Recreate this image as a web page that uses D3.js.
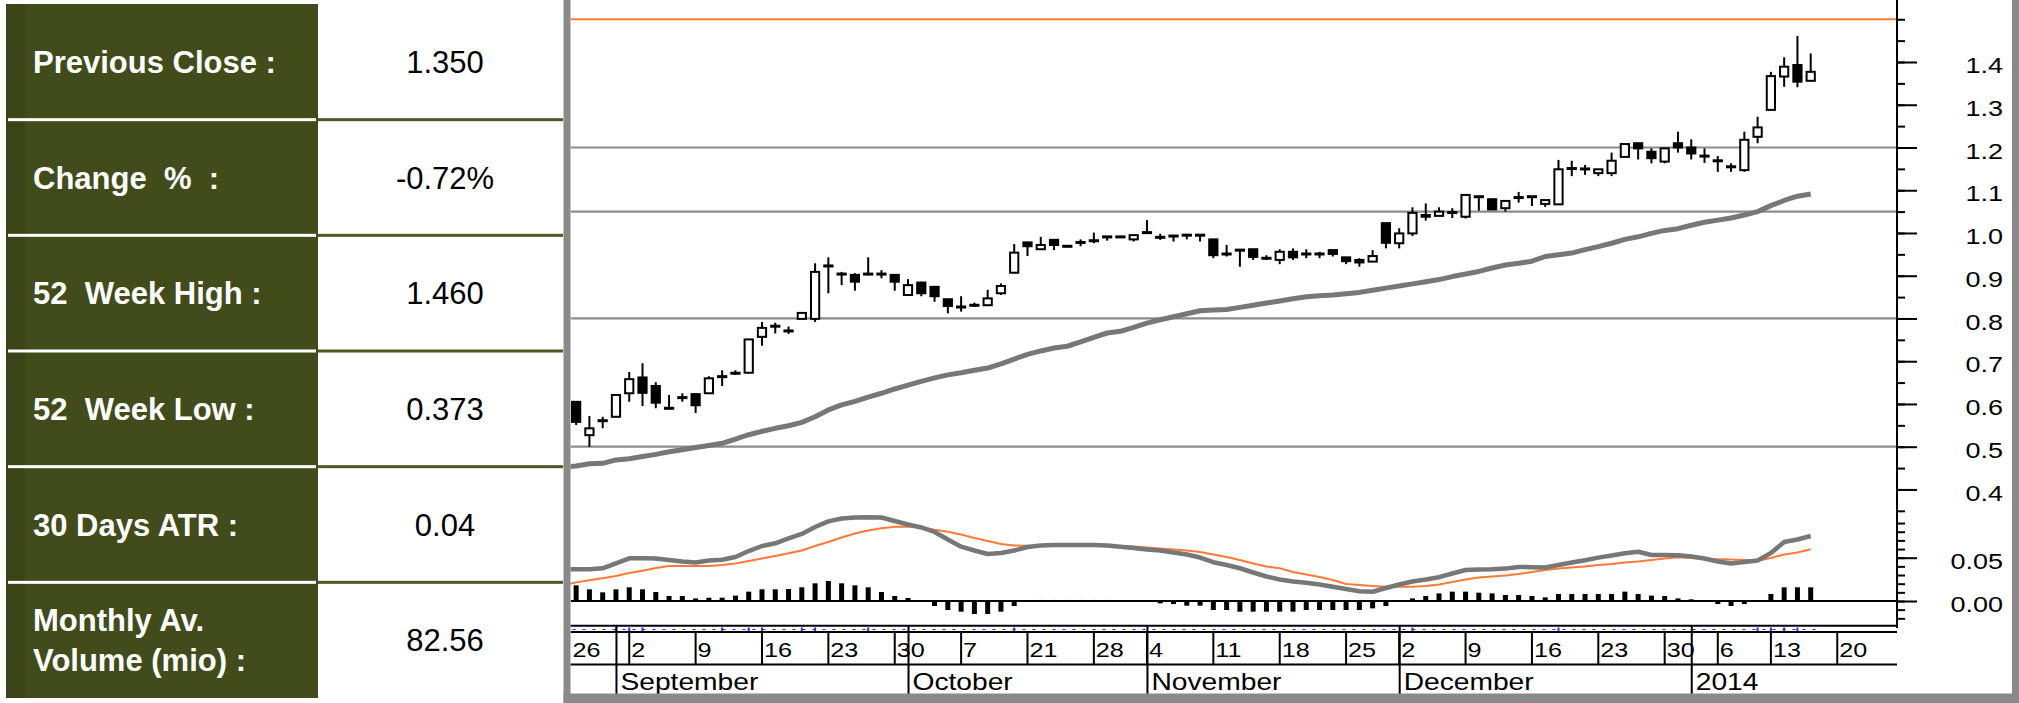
<!DOCTYPE html>
<html>
<head>
<meta charset="utf-8">
<script src="https://cdn.jsdelivr.net/npm/d3@7"></script>
<style>
  body { margin: 0; background: #fff; }
  svg { display: block; font-family: 'Liberation Sans', Arial, sans-serif; }
</style>
</head>
<body>
<div id="chart"></div>
<script>
// DATA
const tableLabels = [['Previous Close :'], ['Change  %  :'], ['52  Week High :'], ['52  Week Low :'], ['30 Days ATR :'], ['Monthly Av.', 'Volume (mio) :']]
const tableValues = ['1.350', '-0.72%', '1.460', '0.373', '0.04', '82.56']

// daily candles, one per trading day (index 0 = first bar on the chart)
const candleOpen = [0.605,0.527,0.562,0.570,0.625,0.662,0.642,0.591,0.616,0.623,
  0.625,0.665,0.673,0.673,0.757,0.783,0.772,0.799,0.799,0.924,
  0.905,0.902,0.905,0.905,0.902,0.855,0.884,0.874,0.845,0.828,
  0.832,0.831,0.859,0.907,0.978,0.962,0.984,0.970,0.979,0.983,
  0.992,0.992,0.985,1.002,0.991,0.994,0.996,0.996,0.985,0.952,
  0.961,0.962,0.942,0.937,0.956,0.952,0.952,0.960,0.943,0.937,
  0.933,1.023,0.976,0.999,1.042,1.040,1.049,1.038,1.086,1.079,
  1.058,1.084,1.086,1.068,1.067,1.152,1.151,1.140,1.140,1.178,
  1.210,1.190,1.167,1.210,1.200,1.181,1.170,1.156,1.147,1.225,
  1.288,1.366,1.393,1.356]
const candleHigh = [0.607,0.572,0.570,0.621,0.675,0.695,0.651,0.621,0.625,0.624,
  0.665,0.679,0.679,0.751,0.792,0.790,0.781,0.813,0.929,0.943,
  0.909,0.906,0.943,0.913,0.902,0.892,0.886,0.874,0.845,0.852,
  0.837,0.867,0.882,0.974,0.978,0.991,0.984,0.970,0.985,1.001,
  0.992,0.992,0.995,1.030,0.998,0.994,0.996,0.996,0.985,0.972,
  0.961,0.962,0.948,0.962,0.964,0.962,0.956,0.960,0.943,0.941,
  0.960,1.023,1.011,1.060,1.069,1.060,1.058,1.089,1.086,1.079,
  1.075,1.096,1.086,1.077,1.171,1.169,1.159,1.149,1.188,1.208,
  1.210,1.198,1.198,1.237,1.219,1.198,1.180,1.163,1.237,1.272,
  1.377,1.411,1.461,1.420]
const candleLow = [0.551,0.500,0.543,0.570,0.605,0.595,0.590,0.588,0.605,0.579,
  0.625,0.642,0.668,0.673,0.736,0.765,0.764,0.799,0.792,0.859,
  0.878,0.865,0.902,0.894,0.865,0.855,0.852,0.839,0.812,0.816,
  0.827,0.831,0.855,0.907,0.946,0.962,0.960,0.967,0.969,0.976,
  0.982,0.990,0.980,1.000,0.984,0.980,0.985,0.980,0.941,0.945,
  0.921,0.937,0.937,0.927,0.937,0.941,0.941,0.945,0.927,0.921,
  0.933,0.964,0.964,0.993,1.029,1.040,1.035,1.034,1.052,1.055,
  1.050,1.071,1.063,1.061,1.067,1.133,1.136,1.133,1.133,1.178,
  1.172,1.163,1.163,1.188,1.172,1.164,1.143,1.143,1.143,1.210,
  1.288,1.342,1.341,1.356]
const candleClose = [0.558,0.543,0.560,0.621,0.658,0.626,0.603,0.589,0.614,0.597,
  0.660,0.663,0.671,0.751,0.778,0.781,0.770,0.813,0.909,0.922,
  0.903,0.886,0.903,0.903,0.886,0.878,0.859,0.852,0.829,0.826,
  0.830,0.847,0.876,0.954,0.969,0.972,0.972,0.968,0.977,0.981,
  0.990,0.990,0.995,1.000,0.989,0.992,0.994,0.994,0.948,0.950,
  0.959,0.944,0.940,0.956,0.943,0.950,0.950,0.951,0.934,0.931,
  0.946,0.977,0.999,1.047,1.038,1.050,1.047,1.089,1.084,1.055,
  1.075,1.082,1.084,1.077,1.149,1.150,1.149,1.149,1.169,1.208,
  1.198,1.175,1.198,1.200,1.186,1.179,1.168,1.154,1.218,1.247,
  1.367,1.389,1.354,1.377]

// moving average, starts one day before the first candle
const movingAverage = [0.452,
  0.455,0.460,0.461,0.469,0.472,0.477,0.482,0.488,0.493,0.498,
  0.503,0.508,0.518,0.528,0.536,0.543,0.549,0.557,0.570,0.586,
  0.598,0.606,0.616,0.625,0.635,0.644,0.653,0.661,0.668,0.673,
  0.679,0.684,0.694,0.705,0.716,0.724,0.731,0.735,0.745,0.756,
  0.766,0.770,0.779,0.789,0.797,0.804,0.811,0.818,0.820,0.821,
  0.826,0.831,0.836,0.841,0.846,0.851,0.853,0.855,0.858,0.861,
  0.866,0.871,0.876,0.881,0.886,0.891,0.898,0.904,0.910,0.918,
  0.925,0.929,0.934,0.945,0.949,0.953,0.961,0.968,0.976,0.985,
  0.991,0.999,1.006,1.010,1.018,1.025,1.030,1.035,1.042,1.050,
  1.064,1.076,1.086,1.091]

// MACD and signal, also starting one day before the first candle
const macdLine = [0.0366,
  0.0366,0.0366,0.0378,0.0434,0.0493,0.0493,0.0490,0.0473,0.0456,0.0445,
  0.0468,0.0477,0.0508,0.0577,0.0635,0.0666,0.0722,0.0774,0.0855,0.0920,
  0.0953,0.0964,0.0967,0.0964,0.0924,0.0883,0.0849,0.0797,0.0710,0.0627,
  0.0583,0.0543,0.0554,0.0583,0.0624,0.0641,0.0647,0.0647,0.0647,0.0647,
  0.0641,0.0626,0.0612,0.0595,0.0583,0.0560,0.0537,0.0502,0.0448,0.0416,
  0.0378,0.0329,0.0283,0.0248,0.0225,0.0211,0.0191,0.0165,0.0139,0.0112,
  0.0107,0.0150,0.0191,0.0225,0.0248,0.0275,0.0318,0.0358,0.0363,0.0366,
  0.0374,0.0393,0.0390,0.0386,0.0416,0.0445,0.0471,0.0501,0.0525,0.0551,
  0.0568,0.0531,0.0531,0.0529,0.0514,0.0491,0.0456,0.0433,0.0450,0.0468,
  0.0554,0.0681,0.0710,0.0751]
const signalLine = [0.0181,
  0.0215,0.0239,0.0263,0.0289,0.0323,0.0350,0.0381,0.0404,0.0404,0.0404,
  0.0404,0.0416,0.0432,0.0462,0.0491,0.0520,0.0551,0.0583,0.0635,0.0681,
  0.0733,0.0779,0.0814,0.0839,0.0858,0.0856,0.0849,0.0822,0.0799,0.0768,
  0.0727,0.0693,0.0658,0.0641,0.0637,0.0635,0.0635,0.0635,0.0635,0.0635,
  0.0635,0.0635,0.0629,0.0618,0.0606,0.0595,0.0583,0.0566,0.0537,0.0508,
  0.0473,0.0433,0.0398,0.0378,0.0335,0.0306,0.0277,0.0242,0.0196,0.0185,
  0.0173,0.0165,0.0165,0.0165,0.0173,0.0191,0.0219,0.0248,0.0271,0.0283,
  0.0294,0.0312,0.0335,0.0358,0.0375,0.0387,0.0398,0.0416,0.0427,0.0445,
  0.0456,0.0473,0.0491,0.0505,0.0497,0.0487,0.0482,0.0479,0.0473,0.0465,
  0.0497,0.0537,0.0560,0.0597]
const macdHistogram = [0.0181,0.0135,0.0100,0.0135,0.0158,0.0135,0.0104,0.0058,0.0058,0.0030,
  0.0038,0.0038,0.0062,0.0108,0.0135,0.0135,0.0139,0.0158,0.0204,0.0231,
  0.0204,0.0181,0.0158,0.0104,0.0058,0.0035,0,-0.0058,-0.0104,-0.0123,
  -0.0150,-0.0150,-0.0123,-0.0058,0,0.0012,0.0012,0.0012,0.0012,0.0012,
  0.0012,0,0,0,-0.0027,-0.0035,-0.0054,-0.0054,-0.0104,-0.0104,
  -0.0123,-0.0123,-0.0123,-0.0123,-0.0123,-0.0104,-0.0104,-0.0104,-0.0104,-0.0104,
  -0.0085,-0.0058,0.0010,0.0030,0.0058,0.0088,0.0108,0.0108,0.0096,0.0088,
  0.0069,0.0069,0.0058,0.0042,0.0081,0.0081,0.0081,0.0081,0.0081,0.0108,
  0.0081,0.0062,0.0058,0.0030,0.0019,0.0008,-0.0035,-0.0058,-0.0035,0.0010,
  0.0081,0.0158,0.0158,0.0158]

const priceLevels = [1.2, 1.05, 0.8, 0.5]
const highLevel = 1.5
const priceMajorTicks = [0.4, 0.5, 0.6, 0.7, 0.8, 0.9, 1.0, 1.1, 1.2, 1.3, 1.4]
const macdMajorTicks = [0, 0.05]

const weekLabels = ['26', '2', '9', '16', '23', '30', '7', '21', '28', '4', '11', '18', '25', '2', '9', '16', '23', '30', '6', '13', '20']
const weekIndex = [-1, 4, 9, 14, 19, 24, 29, 34, 39, 43, 48, 53, 58, 62, 67, 72, 77, 82, 86, 90, 95]
const monthLabels = ['September', 'October', 'November', 'December', '2014']
const monthIndex = [3, 25, 43, 62, 84]
const markerIndex = [3, 4, 5, 11, 13, 14, 17, 18, 22, 33, 63, 74, 89, 90, 91, 92]

// SETTINGS
const settings = {
    width: 2019,
    height: 703,
    table: { left: 6, top: 4, bottom: 698, split: 318, right: 563, valueCenter: 445 },
    plot: { left: 570.5, right: 1897, bottom: 626 },
    colors: {
        olive: '#424c1b',
        oliveDark: '#3b4416',
        frame: '#8a8a8a',
        grid: '#8c8c8c',
        line: '#777777',
        orange: '#ff7a36',
        marker: '#2b2bff'
    },
    textStretch: 1.2
}

const svg = d3.select('#chart').append('svg')
    .attr('width', settings.width)
    .attr('height', settings.height)

svg.append('rect').attr('width', settings.width).attr('height', settings.height).attr('fill', '#fff')

// SCALES
const x = d3.scaleLinear().domain([-0.5, 99.5]).range([569.5, 1897])
const yPrice = d3.scaleLinear().domain([0.5, 1.4]).range([446.7, 62])
const yMacd = d3.scaleLinear().domain([0, 0.05]).range([601, 557.7])

drawTable()
drawPricePanel()
drawMacdPanel()
drawRightAxis()
drawDateAxis()
drawFrame()

// TABLE
function drawTable() {
    const t = settings.table
    const rows = d3.scaleBand().domain(d3.range(tableLabels.length)).range([t.top, t.bottom])
    const g = svg.append('g').attr('class', 'table')

    g.append('rect').attr('x', t.left).attr('y', t.top)
        .attr('width', t.split - t.left).attr('height', t.bottom - t.top)
        .attr('fill', settings.colors.olive)
    g.append('rect').attr('x', t.left).attr('y', t.top)
        .attr('width', 19).attr('height', t.bottom - t.top)
        .attr('fill', settings.colors.oliveDark)

    // row separators
    const seps = d3.range(1, tableLabels.length)
    g.selectAll('.sep-l').data(seps).enter().append('rect')
        .attr('x', t.left + 2).attr('y', d => rows(d) - 1.5)
        .attr('width', t.split - t.left - 4).attr('height', 3)
        .attr('fill', '#fff')
    g.selectAll('.sep-r').data(seps).enter().append('rect')
        .attr('x', t.split).attr('y', d => rows(d) - 1.5)
        .attr('width', t.right - t.split).attr('height', 3)
        .attr('fill', '#4d5826')

    const labels = g.selectAll('.label').data(tableLabels).enter().append('text')
        .attr('x', 33)
        .attr('y', (d, i) => rows(i) + rows.bandwidth() / 2 + 11 - (d.length - 1) * 20)
        .attr('fill', '#fff')
        .attr('font-size', 31)
        .attr('font-weight', 'bold')
        .style('white-space', 'pre')
    labels.selectAll('tspan').data(d => d).enter().append('tspan')
        .attr('x', 33)
        .attr('dy', (d, i) => i === 0 ? 0 : 40)
        .text(d => d)

    g.selectAll('.value').data(tableValues).enter().append('text')
        .attr('x', t.valueCenter)
        .attr('y', (d, i) => rows(i) + rows.bandwidth() / 2 + 11)
        .attr('text-anchor', 'middle')
        .attr('font-size', 31)
        .attr('fill', '#000')
        .text(d => d)
}

// PRICE PANEL
function drawPricePanel() {
    const p = settings.plot
    svg.append('clipPath').attr('id', 'plot-clip')
        .append('rect').attr('x', p.left).attr('y', 0)
        .attr('width', p.right - p.left).attr('height', p.bottom)

    const g = svg.append('g').attr('clip-path', 'url(#plot-clip)')

    g.selectAll('.level').data(priceLevels).enter().append('line')
        .attr('x1', p.left).attr('x2', p.right)
        .attr('y1', d => yPrice(d)).attr('y2', d => yPrice(d))
        .attr('stroke', settings.colors.grid).attr('stroke-width', 2.2)

    g.append('line')
        .attr('x1', p.left).attr('x2', p.right)
        .attr('y1', yPrice(highLevel)).attr('y2', yPrice(highLevel))
        .attr('stroke', settings.colors.orange).attr('stroke-width', 2.2)

    const maLine = d3.line().x((d, i) => x(i - 1)).y(d => yPrice(d))
    g.append('path').datum(movingAverage)
        .attr('d', maLine)
        .attr('fill', 'none')
        .attr('stroke', settings.colors.line)
        .attr('stroke-width', 5)
        .attr('stroke-linejoin', 'round')

    const candles = candleOpen.map((o, i) => ({ i, o, h: candleHigh[i], l: candleLow[i], c: candleClose[i] }))
    const bodyWidth = (x(1) - x(0)) * 0.62

    g.selectAll('.wick').data(candles).enter().append('line')
        .attr('x1', d => x(d.i)).attr('x2', d => x(d.i))
        .attr('y1', d => yPrice(d.h)).attr('y2', d => yPrice(d.l))
        .attr('stroke', '#000').attr('stroke-width', 2)

    g.selectAll('.body').data(candles).enter().append('rect')
        .attr('x', d => x(d.i) - bodyWidth / 2)
        .attr('y', d => yPrice(Math.max(d.o, d.c)))
        .attr('width', bodyWidth)
        .attr('height', d => Math.max(1, Math.abs(yPrice(d.o) - yPrice(d.c))))
        .attr('fill', d => d.c < d.o ? '#000' : '#fff')
        .attr('stroke', '#000').attr('stroke-width', 2)
}

// MACD PANEL
function drawMacdPanel() {
    const p = settings.plot
    const g = svg.append('g').attr('clip-path', 'url(#plot-clip)')

    g.append('line')
        .attr('x1', p.left).attr('x2', p.right)
        .attr('y1', yMacd(0)).attr('y2', yMacd(0))
        .attr('stroke', '#000').attr('stroke-width', 2)

    g.selectAll('.hist').data(macdHistogram).enter().append('rect')
        .attr('x', (d, i) => x(i) - 2.5)
        .attr('y', d => Math.min(yMacd(d), yMacd(0)))
        .attr('width', 5)
        .attr('height', d => Math.abs(yMacd(d) - yMacd(0)))
        .attr('fill', '#000')

    const line = d3.line().x((d, i) => x(i - 1)).y(d => yMacd(d))
    g.append('path').datum(signalLine)
        .attr('d', line).attr('fill', 'none')
        .attr('stroke', settings.colors.orange).attr('stroke-width', 2)
    g.append('path').datum(macdLine)
        .attr('d', line).attr('fill', 'none')
        .attr('stroke', settings.colors.line).attr('stroke-width', 4.5)
        .attr('stroke-linejoin', 'round')
}

// RIGHT AXIS
function drawRightAxis() {
    const p = settings.plot
    const g = svg.append('g').attr('transform', `translate(${p.right},0)`)

    const priceMinor = d3.range(0.35, 1.5501, 0.05)
    const macdMinor = d3.range(-0.02, 0.0901, 0.01)

    g.append('g').call(d3.axisRight(yPrice).tickValues(priceMinor).tickSize(8).tickSizeOuter(0).tickFormat(''))
    g.append('g').call(d3.axisRight(yMacd).tickValues(macdMinor).tickSize(8).tickSizeOuter(0).tickFormat(''))
    g.append('g').call(d3.axisRight(yPrice).tickValues(priceMajorTicks).tickSize(20).tickSizeOuter(0).tickFormat(d3.format('.1f')))
    g.append('g').call(d3.axisRight(yMacd).tickValues(macdMajorTicks).tickSize(20).tickSizeOuter(0).tickFormat(d3.format('.2f')))

    g.selectAll('.domain').remove()
    g.selectAll('.tick line').attr('stroke', '#000').attr('stroke-width', 2)
    g.selectAll('.tick text')
        .attr('font-size', 22.5)
        .attr('font-family', null)
        .attr('fill', '#000')
        .attr('text-anchor', 'end')
        .attr('dy', '0.47em')
        .attr('x', 0)
        .attr('transform', `translate(106,0) scale(${settings.textStretch},1)`)

    g.append('line')
        .attr('x1', 0).attr('x2', 0).attr('y1', 0).attr('y2', 628)
        .attr('stroke', '#000').attr('stroke-width', 2)
}

// DATE AXIS
function drawDateAxis() {
    const p = settings.plot
    const g = svg.append('g')

    const hLines = [625.7, 632, 664.5]
    g.selectAll('.hline').data(hLines).enter().append('line')
        .attr('x1', p.left).attr('x2', p.right)
        .attr('y1', d => d).attr('y2', d => d)
        .attr('stroke', '#000').attr('stroke-width', 2)

    // blue dotted marker line
    g.append('line')
        .attr('x1', p.left + 2).attr('x2', x(93) + 6)
        .attr('y1', 629.5).attr('y2', 629.5)
        .attr('stroke', settings.colors.marker).attr('stroke-width', 1.2)
        .attr('stroke-dasharray', '3,7')
    g.selectAll('.marker').data(markerIndex).enter().append('line')
        .attr('x1', d => x(d)).attr('x2', d => x(d))
        .attr('y1', 627.5).attr('y2', 631)
        .attr('stroke', settings.colors.marker).attr('stroke-width', 2)

    const weekAxis = d3.axisBottom(x)
        .tickValues(weekIndex)
        .tickSize(32)
        .tickSizeOuter(0)
        .tickFormat((d, i) => weekLabels[i])
    const wk = g.append('g').attr('transform', 'translate(0,632)').call(weekAxis)
    wk.selectAll('.tick').attr('transform', d => `translate(${Math.max(x(d), p.left)},0)`)
    wk.selectAll('.tick line').attr('stroke', '#000').attr('stroke-width', 2)
        .attr('opacity', d => x(d) < p.left ? 0 : 1)
    wk.selectAll('.tick text')
        .attr('font-size', 21).attr('font-family', null).attr('fill', '#000')
        .attr('text-anchor', 'start').attr('x', 0).attr('y', 0).attr('dy', 0)
        .attr('transform', `translate(2,25.3) scale(${settings.textStretch},1)`)

    const monthAxis = d3.axisBottom(x)
        .tickValues(monthIndex)
        .tickSize(68)
        .tickSizeOuter(0)
        .tickFormat((d, i) => monthLabels[i])
    const mo = g.append('g').attr('transform', 'translate(0,626)').call(monthAxis)
    mo.selectAll('.tick line').attr('stroke', '#000').attr('stroke-width', 2)
    mo.selectAll('.tick text')
        .attr('font-size', 23.5).attr('font-family', null).attr('fill', '#000')
        .attr('text-anchor', 'start').attr('x', 0).attr('y', 0).attr('dy', 0)
        .attr('transform', `translate(4,64) scale(${settings.textStretch},1)`)

    g.selectAll('.domain').remove()
}

// FRAME
function drawFrame() {
    const c = settings.colors.frame
    svg.append('rect').attr('x', 563.5).attr('y', 0).attr('width', 7).attr('height', settings.height).attr('fill', c)
    svg.append('rect').attr('x', 2012).attr('y', 0).attr('width', 7).attr('height', settings.height).attr('fill', c)
    svg.append('rect').attr('x', 563.5).attr('y', 693.5).attr('width', settings.width - 563.5).attr('height', 9.5).attr('fill', c)
}
</script>
</body>
</html>
